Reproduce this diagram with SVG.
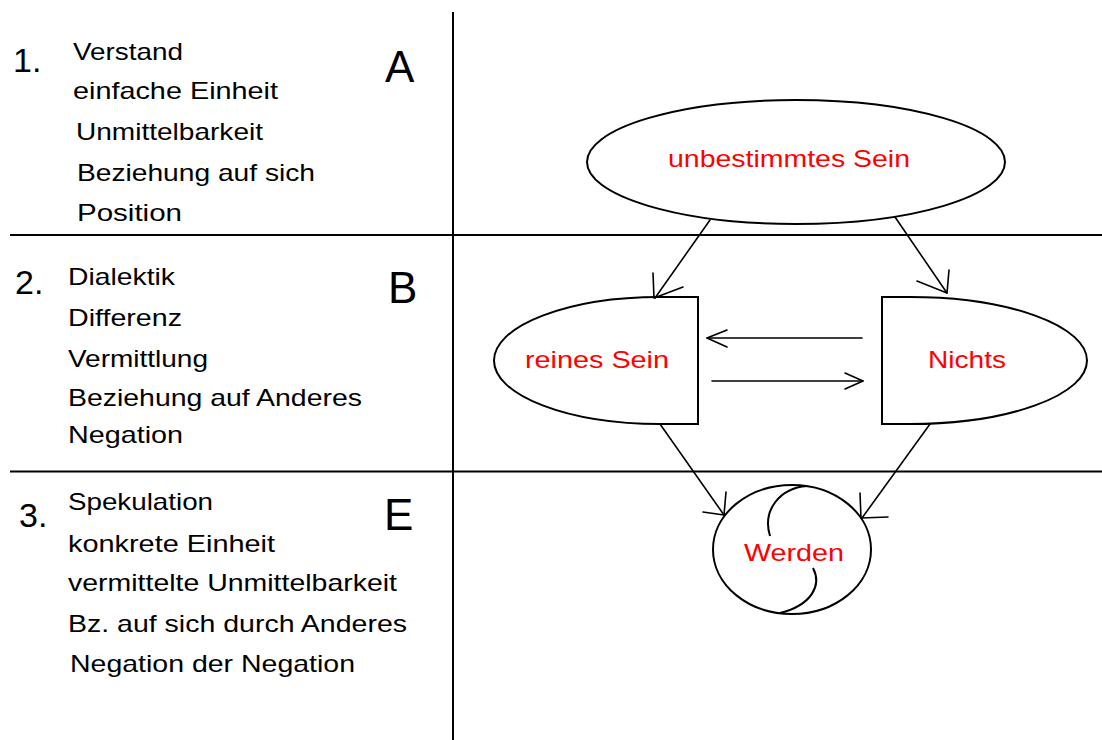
<svg xmlns="http://www.w3.org/2000/svg" width="1102" height="740" viewBox="0 0 1102 740">
<style>
.bg{fill:#ffffff}
.div{stroke:#000;stroke-width:2;fill:none}
.shape{stroke:#000;stroke-width:2;fill:#ffffff}
.curve{stroke:#000;stroke-width:2;fill:none}
.conn{stroke:#000;stroke-width:1.6;fill:none;stroke-linecap:round;stroke-linejoin:round}
.t{font-family:"Liberation Sans",Arial,sans-serif;font-size:24px;fill:#000}
.num{font-family:"Liberation Sans",Arial,sans-serif;font-size:34px;fill:#000}
.big{font-family:"Liberation Sans",Arial,sans-serif;font-size:44px;fill:#000}
.red{font-family:"Liberation Sans",Arial,sans-serif;font-size:24px;fill:#ff0000}
</style>
<rect class="bg" x="0" y="0" width="1102" height="740"/>
<g id="grid">
<line class="div" x1="453" y1="12" x2="453" y2="740"/>
<line class="div" x1="10" y1="235" x2="1102" y2="235"/>
<line class="div" x1="10" y1="471.5" x2="1102" y2="471.5"/>
</g>
<g id="section1">
<text class="num" x="13" y="72">1.</text>
<text class="big" x="385" y="82">A</text>
<text class="t" x="73" y="60" textLength="110" lengthAdjust="spacingAndGlyphs">Verstand</text>
<text class="t" x="73" y="99" textLength="205" lengthAdjust="spacingAndGlyphs">einfache Einheit</text>
<text class="t" x="76" y="140" textLength="187" lengthAdjust="spacingAndGlyphs">Unmittelbarkeit</text>
<text class="t" x="77" y="181" textLength="238" lengthAdjust="spacingAndGlyphs">Beziehung auf sich</text>
<text class="t" x="77" y="221" textLength="105" lengthAdjust="spacingAndGlyphs">Position</text>
</g>
<g id="section2">
<text class="num" x="15" y="294">2.</text>
<text class="big" x="388" y="303">B</text>
<text class="t" x="68" y="285" textLength="107" lengthAdjust="spacingAndGlyphs">Dialektik</text>
<text class="t" x="68" y="326" textLength="114" lengthAdjust="spacingAndGlyphs">Differenz</text>
<text class="t" x="68" y="367" textLength="140" lengthAdjust="spacingAndGlyphs">Vermittlung</text>
<text class="t" x="68" y="406" textLength="294" lengthAdjust="spacingAndGlyphs">Beziehung auf Anderes</text>
<text class="t" x="68" y="443" textLength="115" lengthAdjust="spacingAndGlyphs">Negation</text>
</g>
<g id="section3">
<text class="num" x="19" y="527">3.</text>
<text class="big" x="384" y="530">E</text>
<text class="t" x="68" y="510" textLength="145" lengthAdjust="spacingAndGlyphs">Spekulation</text>
<text class="t" x="68" y="552" textLength="207" lengthAdjust="spacingAndGlyphs">konkrete Einheit</text>
<text class="t" x="68" y="591" textLength="329" lengthAdjust="spacingAndGlyphs">vermittelte Unmittelbarkeit</text>
<text class="t" x="68" y="632" textLength="339" lengthAdjust="spacingAndGlyphs">Bz. auf sich durch Anderes</text>
<text class="t" x="70" y="672" textLength="285" lengthAdjust="spacingAndGlyphs">Negation der Negation</text>
</g>
<g id="node-unbestimmtes-sein">
<ellipse class="shape" cx="796" cy="162" rx="209" ry="62"/>
<text class="red" x="668" y="167" textLength="242" lengthAdjust="spacingAndGlyphs">unbestimmtes Sein</text>
</g>
<g id="node-reines-sein">
<path class="shape" d="M698,297 L660,297 A166,63.5 0 0 0 660,424 L698,424 Z"/>
<text class="red" x="525" y="368" textLength="144" lengthAdjust="spacingAndGlyphs">reines Sein</text>
</g>
<g id="node-nichts">
<path class="shape" d="M882,297 L910,297 A177,63.5 0 0 1 910,424 L882,424 Z"/>
<text class="red" x="928" y="368" textLength="78" lengthAdjust="spacingAndGlyphs">Nichts</text>
</g>
<g id="node-werden">
<ellipse class="shape" cx="792" cy="549.5" rx="79" ry="64.5"/>
<path class="curve" d="M807,486 C780,488 762,510 770,536"/>
<path class="curve" d="M813,568 C822,585 812,605 780,613"/>
<text class="red" x="744" y="561" textLength="100" lengthAdjust="spacingAndGlyphs">Werden</text>
</g>
<g id="connectors">
<line class="conn" x1="710" y1="220" x2="655" y2="298"/>
<polyline class="conn" points="653,273 654,298 683,287"/>
<line class="conn" x1="895" y1="217" x2="947" y2="293"/>
<polyline class="conn" points="949,270 947,293 917,281"/>
<line class="conn" x1="862" y1="338" x2="707" y2="338"/>
<polyline class="conn" points="727,330 707,338 727,347"/>
<line class="conn" x1="712" y1="381" x2="863" y2="381"/>
<polyline class="conn" points="845,373 863,381 845,389"/>
<line class="conn" x1="660" y1="424" x2="724" y2="515"/>
<polyline class="conn" points="726,492 724,515 703,512"/>
<line class="conn" x1="930" y1="424" x2="862" y2="518"/>
<polyline class="conn" points="860,493 861,518 888,517"/>
</g>
</svg>
